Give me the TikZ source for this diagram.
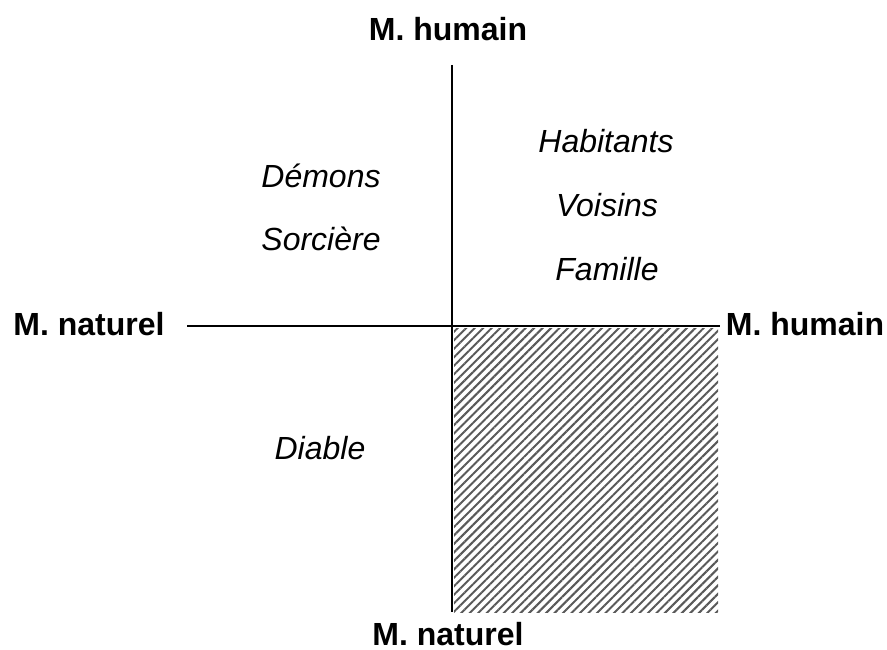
\documentclass[tikz,border=0pt]{standalone}
\usepackage{fontspec}
\setmainfont{Liberation Sans}
\usetikzlibrary{patterns.meta}

\begin{document}
\begin{tikzpicture}[x=1pt, y=-1pt,
	every node/.style={inner sep=0pt, font=\fontsize{32}{38}\selectfont},
	pole/.style={font=\fontsize{32}{38}\selectfont\bfseries},
	figure/.style={font=\fontsize{32}{38}\selectfont\itshape},
	axe/.style={line width=2pt},
	hachure/.style={pattern={Lines[angle=45, distance=6pt, line width=2pt]}, pattern color=black!65}]
	\useasboundingbox (0,0) rectangle (887,650);
	% axes
	\coordinate (haut) at (452,65);
	\coordinate (bas) at (452,612);
	\coordinate (gauche) at (187,326);
	\coordinate (droite) at (720,326);
	\coordinate (centre) at (452,326);
	\fill[hachure] (454,328) rectangle (718,612);
	\draw[axe] (haut) -- (bas);
	\draw[axe] (gauche) -- (droite);
	% poles
	\node[pole] (humainH) at (448,29) {M. humain};
	\node[pole] (naturelB) at (448,634) {M. naturel};
	\node[pole] (naturelG) at (89,324) {M. naturel};
	\node[pole] (humainD) at (805,324) {M. humain};
	% figures
	\node[figure] (demons) at (321,176) {Démons};
	\node[figure] (sorciere) at (321,239) {Sorcière};
	\node[figure] (diable) at (320,448) {Diable};
	\node[figure] (habitants) at (606,141) {Habitants};
	\node[figure] (voisins) at (607,205) {Voisins};
	\node[figure] (famille) at (607,269) {Famille};
\end{tikzpicture}
\end{document}
